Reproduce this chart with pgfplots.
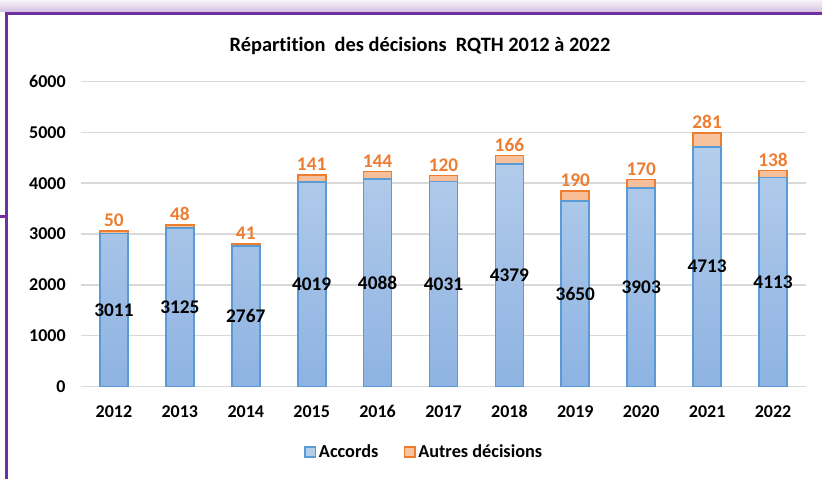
\documentclass[border=0pt]{standalone}
\usepackage{pgfplots}
\pgfplotsset{compat=1.18}
\usepackage{pgfplotstable}
\usepackage{fontspec}
\setmainfont{Carlito}[Ligatures={NoCommon}]

\definecolor{bluebd}{HTML}{5B9BD5}
\definecolor{bluetop}{HTML}{B4CDEB}
\definecolor{bluebot}{HTML}{8EB3E2}
\definecolor{orbd}{HTML}{ED7D31}
\definecolor{ortop}{HTML}{F8C3A0}
\definecolor{orbot}{HTML}{F4AE7E}
\definecolor{purp}{HTML}{7030A0}
\definecolor{gridc}{HTML}{D9D9D9}

\pgfplotstableread{
x a b
0 3011 50
1 3125 48
2 2767 41
3 4019 141
4 4088 144
5 4031 120
6 4379 166
7 3650 190
8 3903 170
9 4713 281
10 4113 138
}\data

\begin{document}
\begin{tikzpicture}[x=0.75pt,y=0.75pt]
\useasboundingbox (0,0) rectangle (822,479);
% decorative frame
\shade[top color=purp!6, bottom color=purp!30] (0,467) rectangle (822,479);
\draw[purp, line width=2.25pt] (6.5,0) -- (6.5,465.5) -- (822,465.5);
\draw[purp, line width=2.25pt] (0,262.5) -- (6.5,262.5);
% title
\node[font=\fontsize{15.3}{18}\selectfont\bfseries] at (420,433) {Répartition\ \ des décisions\ \ RQTH 2012 à 2022};
\begin{axis}[
  at={(60.75pt,69.375pt)}, anchor=south west,
  scale only axis, width=543.75pt, height=228.75pt,
  xmin=-0.5, xmax=10.5, ymin=0, ymax=6000,
  ytick={0,1000,...,6000},
  xtick={0,...,10},
  xticklabels={2012,2013,2014,2015,2016,2017,2018,2019,2020,2021,2022},
  ymajorgrids, grid style={gridc, line width=1.1pt},
  axis x line*=bottom, axis y line*=left,
  x axis line style={gridc, line width=1.1pt, -},
  y axis line style={draw=none},
  major tick length=0pt,
  tick label style={font=\fontsize{13.5}{16}\selectfont\bfseries},
  yticklabel style={xshift=-8pt},
  xticklabel style={yshift=-10.5pt},
  /pgf/number format/1000 sep={},
  /pgf/number format/assume math mode=true,
  clip=false,
  legend style={at={(0.474,-0.215)}, anchor=center, draw=none, fill=none,
    legend columns=2, font=\fontsize{13.7}{16}\selectfont\bfseries,
    /tikz/every even column/.append style={column sep=17pt},
    inner sep=0pt},
  legend image code/.code={\draw[#1, line width=1.1pt] (0pt,-3.8pt) rectangle (7.8pt,3.8pt);},
]
\addlegendimage{draw=bluebd, fill=bluetop}
\addlegendentry{Accords}
\addlegendimage{draw=orbd, fill=ortop}
\addlegendentry{Autres décisions}

\addplot[ybar, bar width=21pt, draw=orbd, line width=1.3pt,
  top color=ortop, bottom color=orbot, forget plot,
  nodes near coords, point meta=explicit,
  nodes near coords style={text=orbd, anchor=south, inner sep=2.5pt,
    font=\fontsize{14.5}{16}\selectfont\bfseries}]
  table[x=x, y expr=\thisrow{a}+\thisrow{b}, meta=b] {\data};

\addplot[ybar, bar width=21pt, draw=bluebd, line width=1.3pt,
  top color=bluetop, bottom color=bluebot, forget plot]
  table[x=x, y=a] {\data};

\addplot[draw=none, mark=none, forget plot,
  nodes near coords, point meta=explicit,
  nodes near coords style={text=black, anchor=center,
    font=\fontsize{14.5}{16}\selectfont\bfseries}]
  table[x=x, y expr=\thisrow{a}/2, meta=a] {\data};
\end{axis}
\end{tikzpicture}
\end{document}
